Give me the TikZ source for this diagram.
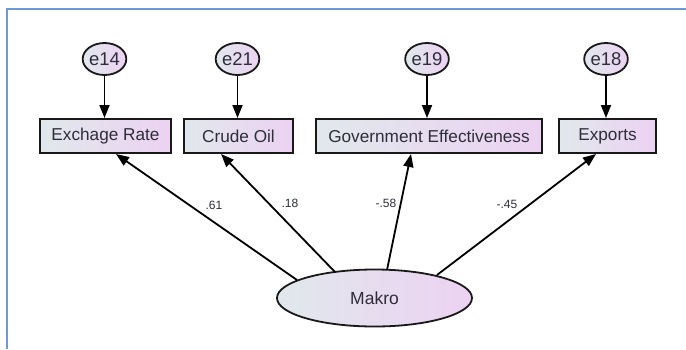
\documentclass[tikz,border=0pt]{standalone}
\usepackage{fontspec}
\setmainfont{Liberation Sans}
\usetikzlibrary{arrows.meta,shapes.geometric}
\definecolor{framecol}{HTML}{6A9BD8}
\definecolor{shadeL}{HTML}{E1E8EC}
\definecolor{shadeR}{HTML}{ECD2F2}
\definecolor{txt}{HTML}{2E2E3A}
\tikzset{
  x=1pt, y=-1pt,
  obsbox/.style={draw=black!90, line width=2pt, left color=shadeL, right color=shadeR,
    minimum height=34pt, inner sep=0pt, text=txt, font=\fontsize{17.2}{19}\selectfont},
  errnode/.style={ellipse, draw=black!90, line width=1.8pt, left color=shadeL, right color=shadeR,
    minimum width=42pt, minimum height=32pt, inner sep=0pt, text=txt, font=\fontsize{18.5}{20}\selectfont},
  latent/.style={ellipse, draw=black!90, line width=1.8pt, left color=shadeL, right color=shadeR,
    minimum width=195pt, minimum height=57pt, inner sep=0pt, text=txt, font=\fontsize{17.5}{19}\selectfont},
  arr/.style={-{Triangle[length=13pt,width=10pt]}, line width=1.8pt, draw=black},
  coef/.style={text=txt, font=\fontsize{12}{13}\selectfont, inner sep=0pt}
}
\begin{document}
\begin{tikzpicture}
\useasboundingbox (0,0) rectangle (686,349);
\fill[white] (0,0) rectangle (686,349);
% window frame
\draw[framecol, line width=2pt] (6.5,349) -- (6.5,8.5) -- (686,8.5);

% observed variables
\node[obsbox, minimum width=131pt] (er) at (105.5,136) {Exchage Rate};
\node[obsbox, minimum width=109pt] (co) at (238.5,136) {Crude Oil};
\node[obsbox, minimum width=226pt] (ge) at (429,136) {Government Effectiveness};
\node[obsbox, minimum width=97pt]  (ex) at (607.5,136) {Exports};

% error terms
\node[errnode] (e14) at (104.5,59) {e14};
\node[errnode] (e21) at (237.5,59) {e21};
\node[errnode] (e19) at (427,59) {e19};
\node[errnode] (e18) at (606,59) {e18};

% latent factor
\node[latent] (mak) at (374.5,298) {Makro};

% error paths
\draw[arr] (e14.south) -- (e14.south |- er.north);
\draw[arr] (e21.south) -- (e21.south |- co.north);
\draw[arr] (e19.south) -- (e19.south |- ge.north);
\draw[arr] (e18.south) -- (e18.south |- ex.north);

% loadings
\draw[arr] ([shift={(-77.5,-18)}]mak.center) -- ([xshift=10.5pt]er.south);
\draw[arr] ([shift={(-39.5,-26)}]mak.center) -- ([xshift=-17.5pt]co.south);
\draw[arr] ([shift={(12.5,-28)}]mak.center) -- ([xshift=-18pt]ge.south);
\draw[arr] ([shift={(62.5,-23)}]mak.center) -- ([xshift=-11.5pt]ex.south);

% coefficients
\node[coef] (c1) at (214,205) {.61};
\node[coef] (c2) at (290,203) {.18};
\node[coef] (c3) at (386,203) {-.58};
\node[coef] (c4) at (507,204) {-.45};
\end{tikzpicture}
\end{document}
